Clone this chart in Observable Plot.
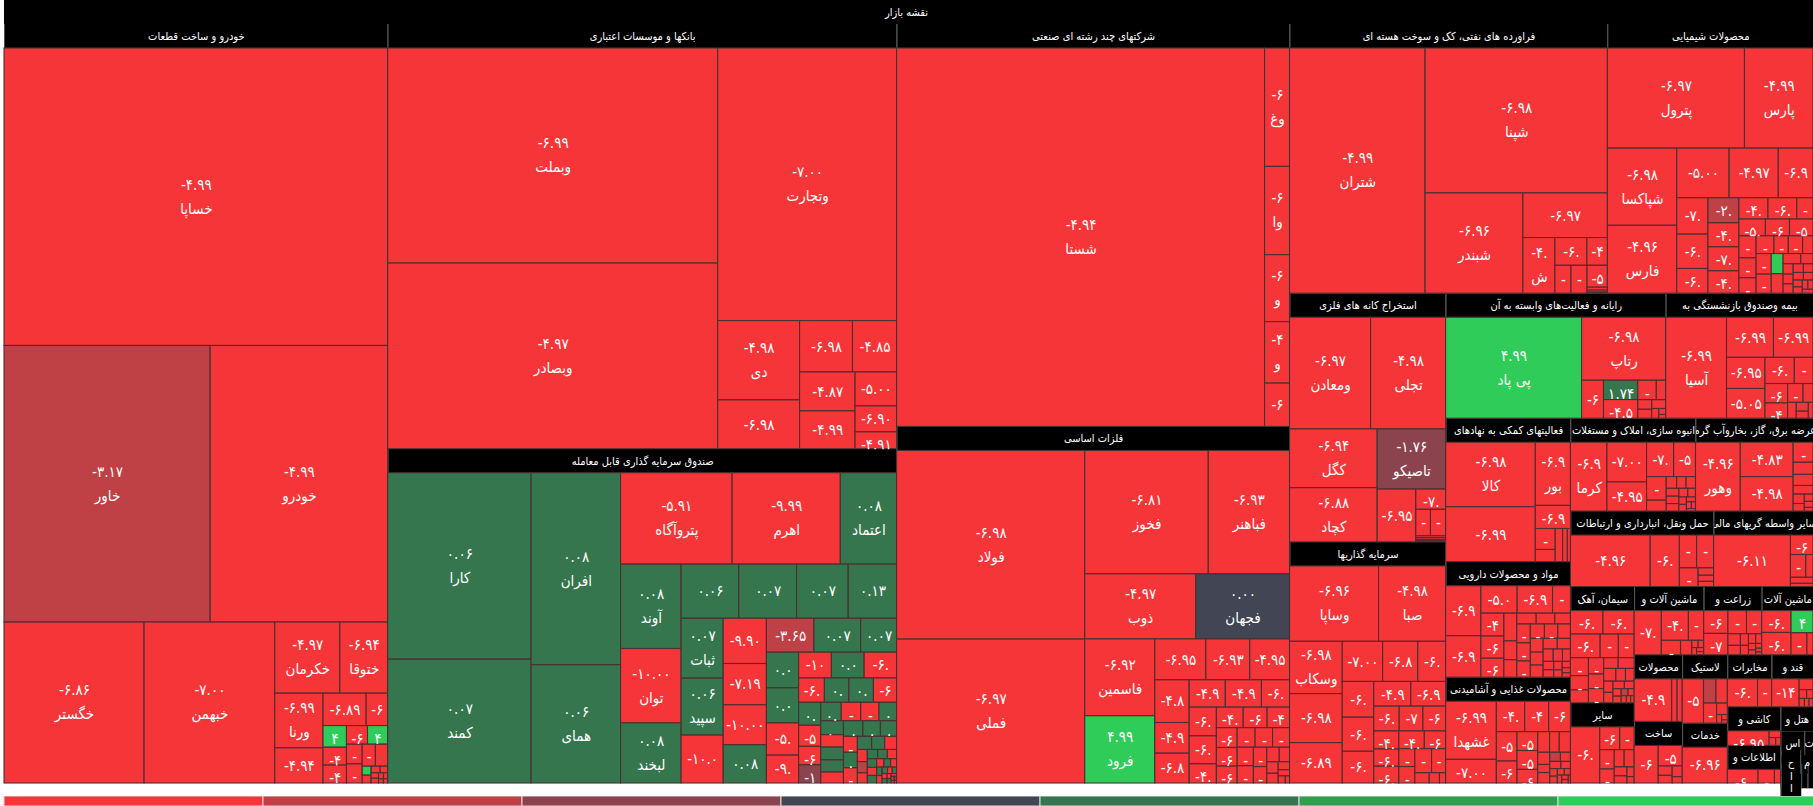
<!DOCTYPE html>
<html><head><meta charset="utf-8">
<script src="https://cdn.jsdelivr.net/npm/d3@7"></script>
<script src="https://cdn.jsdelivr.net/npm/@observablehq/plot@0.6"></script>
<style>
html,body{margin:0;padding:0;background:#fff;overflow:hidden;width:1813px;height:806px}
svg{display:block}
</style></head><body>
<div id="map"></div><div id="legend"></div>
<script>
const mapTitle = "نقشه بازار";
const colorBreaks = [-4,-2,-0.001,0.001,2,4];
const colorRange = ["#f63538","#bf4045","#8b444e","#414554","#35764e","#2f9e4f","#30cc5a"];
const legendBins = [-5,-3,-1,0,1,3,5];

const autoNames=["خساپا","خاور","خودرو","خگستر","خبهمن","خکرمان","ختوقا","ورنا"];
const autoCaps=[113900,56900,49000,22500,21000,4620,3395,2632,1692,1395,697,506,418,418,391,374,310,300,290,270,80,70,60,50,40,35,30,25,20,18];
const autoChg=[-4.99,-3.17,-4.99,-6.86,-7,-4.97,-6.94,-6.99,-4.94,-6.89,-6.5,4.5,-4.5,-4.6,-6.1,4.2,-5,-5.5,-6,-5.2,4.1,-5,-6,-5,-4.5,-6,-5,-6,-5,-4.6];
const autoRows=[1,2,1,1,2,2,2,3,2];

const bankNames=["وبملت","وبصادر","وتجارت","دی"];
const bankCaps=[71000,61300,48800,6500,4000,2720,2270,2160,2100,1410,1080,700];
const bankChg=[-6.99,-4.97,-7,-4.98,-6.98,-6.98,-4.85,-4.87,-4.99,-5,-6.9,-4.91];
const bankRows=[2,1,2,2,2,1,1,1];

const etfNames=["کارا","کمند","افران","همای","پتروآگاه","اهرم","اعتماد","آوند","توان","لبخند","","","","","ثبات","سپید"];
const etfCaps=[26500,17600,17050,10500,10100,9800,5100,5060,4460,3600,3100,3100,2770,2600,2500,2380,2000,1940,1770,1710,1640,1600,1570,1210,1140,1120,1030,890,837,837,830,621,591,591,560,504,462,405,400,375,358,334,323,315,277,289,272,247,300,270,250,220,215,210,187,170,155,120,110,100,95,90,85,80,75,70,60,55,50,45,40,35,30,28,25,22,20,18,15,12,10,8,6];
const etfChg=[0.06,0.07,0.08,0.06,-5.91,-9.99,0.08,0.08,-10,0.08,0.06,0.07,0.07,0.13,0.07,0.06,-10,-9.9,-7.19,-10,0.08,-3.65,0.07,0.07,0.05,0.05,-5.5,-9.5,-10.5,0.06,-6.05,-6.5,0.05,0.05,-6.2,0.5,-5,-6,-1.1,0.5,-5,-6,0.5,0.5,-5.5,0.5,0.5,-6,0.6,0.5,0.4,-6,0.5,-6.5,0.5,0.3,-5.5,-5,-2.8,-6,0.4,0.5,-6,0.3,-6.2,0.4,-5.8,0.3,-6,0.5,-5,0.4,-6,0.5,-6,0.3,-5,0.4,-6,-5,0.4,-6,-5];
const etfRows=[2,2,3,3,4,3,4,3,-4,3,4,4,4,5,3,3,3];

const holdNames=["شستا","وغ","وا","و","و"];
const holdCaps=[139000,2950,2200,1670,1530,1080];
const holdChg=[-4.94,-6.5,-6.4,-6.6,-4.9,-6.3];
const holdRows=[1,1,1,1,1,1];

const metalNames=["فولاد","فملی","فخوز","فباهنر","ذوب","فجهان","فاسمین","فرود"];
const metalCaps=[35400,27000,15200,10000,7200,6100,5370,4700,2080,1790,1620,1460,1050,1020,985,985,765,780,760,520,550,490,460,410,385,350,350,340,330,300,280,260,220,180,150,130,110,90,70,50,30];
const metalChg=[-6.98,-6.97,-6.81,-6.93,-4.97,0,-6.92,4.99,-6.95,-6.93,-4.95,-4.8,-4.97,-6.85,-4.94,-4.96,-6.5,-6.4,-6.2,-4.5,-4.6,-6.3,-4.7,-6.1,-6.6,-6.2,-5.1,-5.6,-5.2,-6,-5,-6,-5.5,-6.2,-5,-6,-5,-6.1,-5,-6.2,-5];
const metalRows=[2,2,2,2,3,3,3,3,3,3,3];

const oilNames=["شتران","شپنا","شبندر","","ش"];
const oilCaps=[33200,26400,9800,3770,1780,886,568,448,448,445,60,40,22];
const oilChg=[-4.99,-6.98,-6.96,-6.97,-4.5,-6.5,-4.8,-5,-6,-5.5,-6,-5,-6];
const oilRows=[1,1,1,1,1,2,1,1,1,3];

const chemNames=["پترول","پارس","شپاکسا","فارس"];
const chemCaps=[13200,6600,5150,4530,2500,2350,1660,1090,1030,741,746,715,715,666,594,590,330,428,390,380,363,329,254,305,244,244,177,300,278,230,222,175,120,100,95,90,85,80,75,70,60,55,50,45,40];
const chemChg=[-6.97,-4.99,-6.98,-4.96,-5,-4.97,-6.95,-7.1,-6.5,-6.6,-2.5,-4.5,-7.2,-4.6,-4.7,-6.4,-5,-5.5,-6,-5.2,-5.1,-6,-5.2,-5.5,-6,-5.8,-5,-5.3,-5,4.3,-5.5,-6,-5,-6.5,-5,-6,-5,-6.2,-5,-6,-5,-6,-5,-6,-5];
const chemRows=[2,2,3,3,4,3,3,3,4,2,2];

const mineNames=["ومعادن","تجلی","کگل","کچاد","تاصیکو"];
const mineCaps=[9000,8330,5120,4720,4090,2030,600,386,400,60,50,40,30];
const mineChg=[-6.97,-4.98,-6.94,-6.88,-1.76,-6.95,-7.05,-5,-6,-6,-5,-6,-5];
const mineRows=[2,2,1,1,1,2,4];

const investNames=["وساپا","صبا","وسکاب"];
const investCaps=[6370,4800,2620,2450,2020,1540,1340,1060,1070,1020,950,870,815,600,560,535,430,410,400,430,360,270,250,380,320,140,100,60];
const investChg=[-6.96,-4.98,-6.98,-6.98,-6.89,-7,-6.85,-6.5,-6.4,-6.6,-6.3,-4.95,-6.95,-6.5,-7.1,-6.2,-4.5,-6.3,-6.4,-4.6,-6.1,-5.5,-6,-6.5,-7.2,-5,-6,-5];
const investRows=[2,3,3,3,2,3,3];

const itNames=["پی پاد","رتاپ"];
const itCaps=[13250,5120,804,640,617,348,177,129,120,119,66,40,25];
const itChg=[4.99,-6.98,-6.2,1.74,-4.5,-5,-6,-5,-6,-5,-6,-5,-6];
const itRows=[1,1,1,2,2,2];

const insNames=["آسیا"];
const insCaps=[5800,1780,1500,1130,1080,724,462,415,325,275,177,130,100,80,70];
const insChg=[-6.99,-6.99,-6.99,-6.95,-5.05,-6.5,-4.5,-6.4,-4.7,-5,-6,-6,-5,-6,-5];
const insRows=[1,2,2,2,2,2];

const aidNames=["کالا","","بور"];
const aidCaps=[5600,4780,2150,787,404,236,240,150,100];
const aidChg=[-6.98,-6.99,-6.95,-6.92,-5,-6,-6,-5,-5];
const aidRows=[2,1,1,2,3];

const pharmaNames=[];
const pharmaCaps=[1700,1410,956,936,473,506,490,420,346,235,217,202,195,163,245,235,210,195,185,175,170,160,150,145,135,120,110,95,85,75,70,60,50,40,35];
const pharmaChg=[-6.95,-6.92,-5.05,-6.93,-5,-4.5,-6.4,-6.2,-5,-6,-5.5,-5,-6,-5.5,-5,-6,-5,-6,-5,-6,-5,-6,-5,-6,-5,-6,-5,-6,-5,-6,-5,-6,-5,-6,-5];
const pharmaRows=[2,3,3,3,3];

const foodNames=["غشهدا"];
const foodCaps=[2580,1050,756,640,580,530,397,342,342,247,213,173,202,128,85,110,85,80,70,60,50,45,40,35,30,25,20,15];
const foodChg=[-6.99,-7,-4.5,-4.6,-6.2,-5,-6,-5.5,-5,-6,-5,-6,-5,-6,-5,-6,-2.6,-5,-6,-5,-6,-5,-6,-5,-6,-5,-6,-5];
const foodRows=[2,3,2,3,3,3];

const buildNames=["کرما"];
const buildCaps=[2270,1420,1040,840,678,419,193,110,100,100,90,85,85,70,60,50,45,40,30,25,20];
const buildChg=[-6.95,-7,-4.95,-7.1,-5.2,-5,-4.5,-6,-5,-6,-5,-6,-5,-6,-5,-6,-5,-6,-5,-6,-5];
const buildRows=[1,2,2,2,3,3];

const powerNames=["وهور"];
const powerCaps=[2930,1730,1730,378,229,210,162,100,80,60,50,30];
const powerChg=[-4.96,-4.83,-4.98,-4.5,-6,-5,-6,-5,-6,-5,-6,-5];
const powerRows=[1,2,1,1,1,1];

const transNames=[];
const transCaps=[3800,1390,525,515,324,105,88,74];
const transChg=[-4.96,-6.5,-5,-6,-5.5,-6,-5,-6];
const transRows=[1,1,2,1,1,2];

const brokerNames=[];
const brokerCaps=[3770,419,334,155,130,69];
const brokerChg=[-6.11,-6.5,-5,-6,-5,-6];
const brokerRows=[1,1,2,2];

const cementNames=[];
const cementCaps=[626,600,575,352,305,265,210,190,203,182,178,127,140,127,100,90,85,80,70,60,50,45,40,35,30,25,20];
const cementChg=[-6.95,-6.5,-6.4,-5,-6,-5.5,-5,-6,-5,-6,-5,-6,-5,-6,-5,-6,-5,-6,-5,-6,-5,-6,-2.7,-6,-5,-6,-5];
const cementRows=[2,3,3,3];

const otherNames=[];
const otherCaps=[1440,400,286,244,177,150,150,100,80,60,40];
const otherChg=[-6.5,-6.2,-5,-6,-5,-6,-5,-6,-5,-6,-5];
const otherRows=[1,2,2,2];

const machNames=[];
const machCaps=[1050,702,397,243,143,40,35,30,25,20];
const machChg=[-7.1,-4.5,-6.5,-5,-6,-5,-6,-5,-6,-5];
const machRows=[1,2,1,1];

const farmNames=[];
const farmCaps=[477,447,372,305,124,102,80,66,60,50,40,30,25,20,15];
const farmChg=[-6.2,-7.1,-5,-6,-5,-6,-5,-6,-5,-6,-5,-6,-5,-6,-5];
const farmRows=[2,2,2,2];

const mach2Names=[];
const mach2Caps=[568,580,432,310,118];
const mach2Chg=[-6.5,-6.4,4.15,-5,-6];
const mach2Rows=[2,1,2];

const prodNames=[];
const prodCaps=[1400,200,190];
const prodChg=[-4.95,-5,-6];
const prodRows=[1,2];

const buildCoNames=[];
const buildCoCaps=[846,460,122,100,100,60];
const buildCoChg=[-6.2,-5.1,-5,-6,-5,-6];
const buildCoRows=[1,1];

const tyreNames=[];
const tyreCaps=[767,246,224,214,100,35,25,15];
const tyreChg=[-5,-2.6,-6,-5,-6,-5,-6,-5];
const tyreRows=[1,2,1];

const serviceNames=[];
const serviceCaps=[1630];
const serviceChg=[-6.96];

const telecomNames=[];
const telecomCaps=[800,373];
const telecomChg=[-6.5,-5];

const sugarNames=[];
const sugarCaps=[693,135,60,50,40,35,30];
const sugarChg=[-14,-5,-6,-5,-6,-5,-6];

const tileNames=[];
const tileCaps=[474,60,40,30];
const tileChg=[-6.95,-5,-6,-5];

const infoNames=[];
const infoCaps=[420,224,84];
const infoChg=[-6.2,-5,-6];

const none=[];
const rootRows=[1,2,2,2,2,2,3,2,2,2,3,2,2,2,2,1,2,2,2,2];
const sectorLabels=["خودرو و ساخت قطعات","بانکها و موسسات اعتباری","صندوق سرمایه گذاری قابل معامله","شرکتهای چند رشته ای صنعتی","فلزات اساسی","فراورده های نفتی، کک و سوخت هسته ای","محصولات شیمیایی","استخراج کانه های فلزی","سرمایه گذاریها","رایانه و فعالیت‌های وابسته به آن","بیمه وصندوق بازنشستگی به","فعالیتهای کمکی به نهادهای","مواد و محصولات دارویی","محصولات غذایی و آشامیدنی","انبوه سازی، املاک و مستغلات","عرضه برق، گاز، بخاروآب گرم","حمل ونقل، انبارداری و ارتباطات","سایر واسطه گریهای مالی","سیمان، آهک","سایر","ماشین آلات و","زراعت و","ماشین آلات","محصولات","ساخت","لاستیک","خدمات","مخابرات","قند و","کاشی و","اطلاعات و","هتل و","اس","ت","ح","م","ا","ا","",""];
const sectorWeights=[291000,216000,170000,158000,140000,85500,55300,38800,37600,27500,18400,17900,14400,13200,11600,10900,10800,7500,7400,5100,4750,3960,3500,3200,2960,3080,2700,2300,2150,2050,2000,790,440,160,286,186,234,152,120,100];
const sectorNames=[autoNames,bankNames,etfNames,holdNames,metalNames,oilNames,chemNames,mineNames,investNames,itNames,insNames,aidNames,pharmaNames,foodNames,buildNames,powerNames,transNames,brokerNames,cementNames,otherNames,machNames,farmNames,mach2Names,prodNames,buildCoNames,tyreNames,serviceNames,telecomNames,sugarNames,tileNames,infoNames,none,none,none,none,none,none,none,none,none];
const sectorCaps=[autoCaps,bankCaps,etfCaps,holdCaps,metalCaps,oilCaps,chemCaps,mineCaps,investCaps,itCaps,insCaps,aidCaps,pharmaCaps,foodCaps,buildCaps,powerCaps,transCaps,brokerCaps,cementCaps,otherCaps,machCaps,farmCaps,mach2Caps,prodCaps,buildCoCaps,tyreCaps,serviceCaps,telecomCaps,sugarCaps,tileCaps,infoCaps,none,none,none,none,none,none,none,none,none];
const sectorChg=[autoChg,bankChg,etfChg,holdChg,metalChg,oilChg,chemChg,mineChg,investChg,itChg,insChg,aidChg,pharmaChg,foodChg,buildChg,powerChg,transChg,brokerChg,cementChg,otherChg,machChg,farmChg,mach2Chg,prodChg,buildCoChg,tyreChg,serviceChg,telecomChg,sugarChg,tileChg,infoChg,none,none,none,none,none,none,none,none,none];
const sectorLeafRows=[autoRows,bankRows,etfRows,holdRows,metalRows,oilRows,chemRows,mineRows,investRows,itRows,insRows,aidRows,pharmaRows,foodRows,buildRows,powerRows,transRows,brokerRows,cementRows,otherRows,machRows,farmRows,mach2Rows,prodRows,buildCoRows,tyreRows,none,none,none,none,none,none,none,none,none,none,none,none,none,none];

const tree={children:sectorLabels.map((label,i)=>({label,weight:sectorWeights[i],rows:sectorLeafRows[i],
  children:sectorCaps[i].map((cap,j)=>({cap,name:sectorNames[i][j]||"",change:sectorChg[i][j]}))}))};
const root=d3.hierarchy(tree).sum(d=>d.cap||0);
const sq=d3.treemapSquarify.ratio(1);
function rowTile(kids,rows,x0,y0,x1,y1){
  let i=0, rem=d3.sum(kids,c=>c.value);
  for(const r of rows){
    if(i>=kids.length) break;
    const n=Math.abs(r);
    const row=kids.slice(i,i+n), sum=d3.sum(row,c=>c.value), p={children:row,value:sum};
    const dx=x1-x0, dy=y1-y0;
    if(r>0&&dx<dy){ const h=rem?dy*sum/rem:dy; d3.treemapDice(p,x0,y0,x1,y0+h); y0+=h; }
    else { const w=rem?dx*sum/rem:dx; d3.treemapSlice(p,x0,y0,x0+w,y1); x0+=w; }
    rem-=sum; i+=n;
  }
  if(i<kids.length) sq({children:kids.slice(i),value:rem},x0,y0,x1,y1);
}
const tile=(node,x0,y0,x1,y1)=>{
  if(node.depth===0){
    const kids=node.children, kept=kids.map(c=>c.value);
    kids.forEach(c=>c.value=c.data.weight);
    rowTile(kids,rootRows,x0,y0,x1,y1);
    kids.forEach((c,i)=>c.value=kept[i]);
  } else rowTile(node.children,node.data.rows||[],x0,y0,x1,y1);
};
d3.treemap().tile(tile).size([1813,783])
  .paddingLeft(n=>n.depth===0?4:0).paddingTop(n=>n.depth<=1?24:0)(root);

const groups=root.children;
const leaves=groups.flatMap(g=>g.children||[]).filter(l=>l.y1-l.y0>0.5&&l.x1-l.x0>0.5);
const fa=s=>s.replace(/\d/g,c=>"۰۱۲۳۴۵۶۷۸۹"[c]);
const thresholds=[13,20,25,33.5,38.2,42.3];
function shown(l){
  const w=l.x1-l.x0,h=l.y1-l.y0;
  if(h<13) return "";
  const s=fa(l.data.change.toFixed(2));
  let n=0; thresholds.forEach(t=>{if(w>=t)n++;});
  if(n===2&&l.data.change>=4) n=1;
  return s.slice(0,n);
}
const valueY=l=>{const c=(l.y0+l.y1)/2; return l.data.name?c-12.5:Math.max(c,l.y0+13);};
const nameY=l=>(l.y0+l.y1)/2+11.5;
const clipper=(boxOf,prefix)=>function(index,scales,values,dims,ctx,next){
  const g=next(index,scales,values,dims,ctx);
  const texts=Array.from(g.querySelectorAll("text"));
  const ns="http://www.w3.org/2000/svg";
  const defs=document.createElementNS(ns,"defs"); g.insertBefore(defs,g.firstChild);
  Array.from(index).forEach((i,k)=>{
    const t=texts[k]; if(!t) return;
    const b=boxOf(i), id=prefix+i;
    const cp=document.createElementNS(ns,"clipPath"); cp.setAttribute("id",id);
    const r=document.createElementNS(ns,"rect");
    r.setAttribute("x",b[0]);r.setAttribute("y",b[1]);r.setAttribute("width",Math.max(0,b[2]-b[0]));r.setAttribute("height",Math.max(0,b[3]-b[1]));
    cp.append(r); defs.append(cp);
    const w=document.createElementNS(ns,"g"); w.setAttribute("clip-path",`url(#${id})`);
    t.parentNode.insertBefore(w,t); w.append(t);
  });
  return g;
};
const valueLeaves=leaves.filter(l=>shown(l));
const nameLeaves=leaves.filter(l=>l.data.name);
const labelled=groups.filter(g=>g.data.label);
const map=Plot.plot({
  width:1813,height:796,margin:0,
  style:{background:"transparent",fontFamily:'"DejaVu Sans Condensed","DejaVu Sans"',fontStretch:"condensed"},
  x:{type:"linear",domain:[0,1813],range:[0,1813],axis:null},
  y:{type:"linear",domain:[0,796],range:[0,796],axis:null},
  color:{type:"threshold",domain:colorBreaks,range:colorRange},
  marks:[
    Plot.rect([root],{x1:d=>d.x0+4,x2:d=>d.x1,y1:0,y2:24,fill:"#000"}),
    Plot.rect(groups,{x1:"x0",x2:"x1",y1:"y0",y2:d=>Math.max(d.y1,d.y0+24),fill:"#000"}),
    Plot.ruleX(groups,{x:"x0",y1:"y0",y2:d=>d.y0+24,stroke:"#666",strokeWidth:0.8}),
    Plot.rect(leaves,{x1:"x0",x2:"x1",y1:"y0",y2:"y1",fill:d=>d.data.change,stroke:"#4a3033",strokeWidth:1.1}),
    Plot.text([mapTitle],{x:906,y:12,text:d=>d,fill:"#fff",fontSize:11}),
    Plot.text(labelled,{x:d=>(d.x0+d.x1)/2,y:d=>d.y0+12,text:d=>d.data.label,fill:"#fff",fontSize:11,
      render:clipper(i=>{const d=labelled[i];return [d.x0,d.y0,d.x1,d.y0+24];},"h")}),
    Plot.text(valueLeaves,{x:d=>(d.x0+d.x1)/2,y:valueY,text:shown,fill:"#fff",fontSize:15,
      render:clipper(i=>{const d=valueLeaves[i];return [d.x0,d.y0,d.x1,d.y1];},"v")}),
    Plot.text(nameLeaves,{x:d=>(d.x0+d.x1)/2,y:nameY,text:d=>d.data.name,fill:"#fff",fontSize:15,
      render:clipper(i=>{const d=nameLeaves[i];return [d.x0,d.y0,d.x1,d.y1];},"n")})
  ]
});
document.getElementById("map").append(map);
const legend=Plot.plot({
  width:1813,height:10,margin:0,
  style:{background:"transparent"},
  x:{type:"band",domain:legendBins,range:[4,1817],padding:0,axis:null},
  color:{type:"threshold",domain:colorBreaks,range:colorRange},
  marks:[Plot.cell(legendBins,{x:d=>d,fill:d=>d,stroke:"#ddd",strokeWidth:1})]
});
document.getElementById("legend").append(legend);
</script></body></html>
